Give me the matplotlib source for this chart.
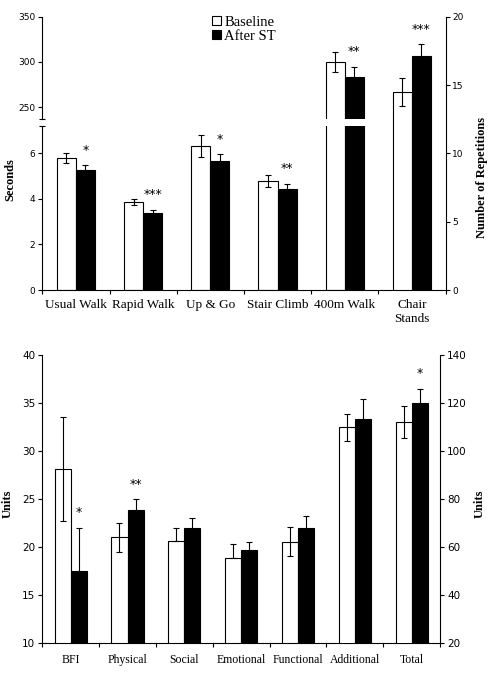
import numpy as np
import matplotlib
matplotlib.use('Agg')
import matplotlib.pyplot as plt
from matplotlib.patches import Patch
from matplotlib.ticker import NullLocator, FixedLocator

# ---------------- data: top panel ----------------
top_cats = ['Usual Walk', 'Rapid Walk', 'Up & Go', 'Stair Climb', '400m Walk', 'Chair\nStands']
sec_base = [5.79, 3.87, 6.32, 4.78, 300.0]
sec_base_err = [0.20, 0.12, 0.50, 0.26, 11.0]
sec_after = [5.26, 3.39, 5.67, 4.43, 283.0]
sec_after_err = [0.23, 0.13, 0.30, 0.23, 11.7]
rep_base = [14.5]
rep_base_err = [1.0]
rep_after = [17.1]
rep_after_err = [0.9]
top_sig = ['*', '***', '*', '**', '**', '***']
sec_ticks = [0, 2, 4, 6, 250, 300, 350]
rep_ticks = [0, 5, 10, 15, 20]
brk_lo, brk_hi = 7.2, 237.0

# ---------------- data: bottom panel ----------------
bot_cats = ['BFI', 'Physical', 'Social', 'Emotional', 'Functional', 'Additional', 'Total']
unit_base = [28.1, 21.0, 20.6, 18.8, 20.5]
unit_base_lo = [5.4, 1.5, 0.0, 0.0, 1.4]
unit_base_hi = [5.4, 1.5, 1.4, 1.5, 1.6]
unit_after = [17.5, 23.8, 22.0, 19.7, 22.0]
unit_after_err = [4.5, 1.2, 1.05, 0.85, 1.25]
total_base = [109.7, 112.1]
total_base_err = [5.8, 6.7]
total_after = [113.2, 120.1]
total_after_err = [8.5, 5.7]
bot_sig = ['*', '**', '', '', '', '', '*']
unit_ticks = [10, 15, 20, 25, 30, 35, 40]
total_ticks = [20, 40, 60, 80, 100, 120, 140]

SERIF = ['Liberation Serif', 'DejaVu Serif']
SANS = ['DejaVu Sans']
LW = 0.8
W = 0.283

fig = plt.figure(figsize=(4.9, 6.8), dpi=100)

# broken-axis scale for seconds
k = 45.3 / 50 / 22.8
gap = 0.3
xs = np.array([-1e4, 0, brk_lo, brk_hi, 350, 1e4])
top_d = brk_lo + gap + (350 - brk_hi) * k
ds = np.array([-1e4, 0, brk_lo, brk_lo + gap, top_d, top_d + (1e4 - 350) * k])


def fwd(v):
    return np.interp(v, xs, ds)


def inv(d):
    return np.interp(d, ds, xs)


def style_x(ax, cats, fs, lab_pad):
    n = len(cats)
    ax.set_xlim(-0.5, n - 0.5)
    ax.xaxis.set_major_locator(FixedLocator(np.arange(-0.5, n, 1.0)))
    ax.xaxis.set_major_formatter(plt.NullFormatter())
    ax.xaxis.set_minor_locator(FixedLocator(np.arange(n)))
    ax.set_xticklabels(cats, minor=True, family=SERIF, fontsize=fs)
    ax.tick_params(axis='x', which='major', direction='out', length=3, width=LW)
    ax.tick_params(axis='x', which='minor', length=0, pad=lab_pad)


def bars(ax, x, base, after, err_b, err_a, zo=2):
    x = np.asarray(x, float)
    ax.bar(x - W / 2, base, W, color='white', edgecolor='black', linewidth=LW, zorder=zo)
    ax.bar(x + W / 2, after, W, color='black', edgecolor='black', linewidth=LW, zorder=zo)
    ax.errorbar(x - W / 2, base, yerr=err_b, fmt='none', ecolor='black',
                elinewidth=LW, capsize=2.4, capthick=LW, zorder=zo + 1)
    ax.errorbar(x + W / 2, after, yerr=err_a, fmt='none', ecolor='black',
                elinewidth=LW, capsize=2.4, capthick=LW, zorder=zo + 1)


def stars(ax, x, tops, sig):
    for xi, t, s in zip(x, tops, sig):
        if s:
            ax.annotate(s, xy=(xi + W / 2, t), xytext=(0, 6), textcoords='offset points',
                        ha='center', va='bottom', fontsize=9, family=SANS)


# ---------------- top panel ----------------
ax = fig.add_axes([42.3 / 490, 1 - 290 / 680, (445.5 - 42.3) / 490, (290 - 16.7) / 680])
ax.set_yscale('function', functions=(fwd, inv))
ax.set_ylim(0, 350)
xsec = np.arange(len(sec_base))
bars(ax, xsec, sec_base, sec_after, sec_base_err, sec_after_err)
stars(ax, xsec, np.add(sec_after, sec_after_err), top_sig[:len(sec_base)])
# gap through the 400m bars at the axis break
i400 = len(sec_base) - 1
ax.fill_between([i400 - W - 0.04, i400 + W + 0.04], brk_lo, brk_hi, color='white', lw=0, zorder=6)
ax.yaxis.set_major_locator(FixedLocator(sec_ticks))
ax.yaxis.set_minor_locator(NullLocator())
ax.set_yticklabels([str(t) for t in sec_ticks], family=SANS, fontsize=6.5)
ax.tick_params(axis='y', direction='out', length=3, width=LW, pad=2)
for s in ['top', 'right']:
    ax.spines[s].set_visible(False)
ax.spines['left'].set_bounds(0, brk_lo)
ax.spines['left'].set_linewidth(LW)
ax.spines['bottom'].set_linewidth(LW)
ytr = ax.get_yaxis_transform()
ax.plot([0, 0], [brk_hi, 350], transform=ytr, color='black', lw=LW, clip_on=False, zorder=7)
ax.plot([0, 0], [brk_lo, brk_hi], transform=ytr, ls='none', marker='_', ms=4.5,
        mew=LW, color='black', clip_on=False, zorder=7)
style_x(ax, top_cats, 9.5, 6.5)

ax2 = ax.twinx()
ax2.set_ylim(0, 20)
xrep = np.arange(len(sec_base), len(sec_base) + len(rep_base))
bars(ax2, xrep, rep_base, rep_after, rep_base_err, rep_after_err)
stars(ax2, xrep, np.add(rep_after, rep_after_err), top_sig[len(sec_base):])
ax2.set_yticks(rep_ticks)
ax2.set_yticklabels([str(t) for t in rep_ticks], family=SANS, fontsize=6.5)
ax2.tick_params(axis='y', direction='out', length=3, width=LW, pad=2)
for s in ['top', 'left', 'bottom']:
    ax2.spines[s].set_visible(False)
ax2.spines['right'].set_linewidth(LW)

fig.text(10 / 490, 1 - 180 / 680, 'Seconds', rotation=90, ha='center', va='center',
         family=SERIF, fontsize=9, fontweight='bold')
fig.text(482 / 490, 1 - 178 / 680, 'Number of Repetitions', rotation=90, ha='center',
         va='center', family=SERIF, fontsize=9, fontweight='bold')

fig.legend(handles=[Patch(facecolor='white', edgecolor='black', lw=LW),
                    Patch(facecolor='black', edgecolor='black', lw=LW)],
           labels=['Baseline', 'After ST'], loc='upper left',
           bbox_to_anchor=(212 / 490, 1 - 16 / 680), frameon=False,
           prop={'family': SERIF, 'size': 10.5}, handlelength=0.6, handleheight=0.6,
           handletextpad=0.25, labelspacing=0.05, borderpad=0, borderaxespad=0)

# ---------------- bottom panel ----------------
bx = fig.add_axes([42.3 / 490, 1 - 643 / 680, (440 - 42.3) / 490, (643 - 354.7) / 680])
bx.set_ylim(10, 40)
xu = np.arange(len(unit_base))
bars(bx, xu, unit_base, unit_after, [unit_base_lo, unit_base_hi], unit_after_err)
stars(bx, xu, np.add(unit_after, unit_after_err), bot_sig[:len(unit_base)])
bx.set_yticks(unit_ticks)
bx.set_yticklabels([str(t) for t in unit_ticks], family=SANS, fontsize=7.5)
bx.tick_params(axis='y', direction='out', length=3, width=LW, pad=2)
for s in ['top', 'right']:
    bx.spines[s].set_visible(False)
for s in ['left', 'bottom']:
    bx.spines[s].set_linewidth(LW)
style_x(bx, bot_cats, 8.5, 8)

bx2 = bx.twinx()
bx2.set_ylim(20, 140)
xt = np.arange(len(unit_base), len(unit_base) + len(total_base))
bars(bx2, xt, total_base, total_after, total_base_err, total_after_err)
stars(bx2, xt, np.add(total_after, total_after_err), bot_sig[len(unit_base):])
bx2.set_yticks(total_ticks)
bx2.set_yticklabels([str(t) for t in total_ticks], family=SANS, fontsize=7.5)
bx2.tick_params(axis='y', direction='out', length=3, width=LW, pad=2)
for s in ['top', 'left', 'bottom']:
    bx2.spines[s].set_visible(False)
bx2.spines['right'].set_linewidth(LW)

fig.text(8 / 490, 1 - 504 / 680, 'Units', rotation=90, ha='center', va='center',
         family=SERIF, fontsize=9, fontweight='bold')
fig.text(480 / 490, 1 - 504 / 680, 'Units', rotation=90, ha='center', va='center',
         family=SERIF, fontsize=9, fontweight='bold')

fig.savefig('out.png', dpi=100)
